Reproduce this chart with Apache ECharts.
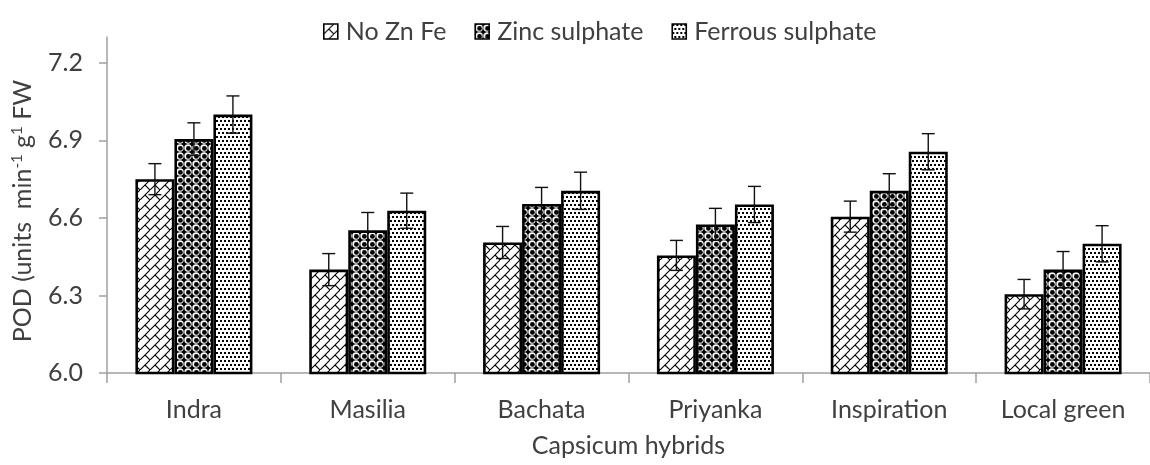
<!DOCTYPE html>
<html><head><meta charset="utf-8">
<script src="https://cdn.jsdelivr.net/npm/echarts@6/dist/echarts.min.js"></script>
<style>html,body{margin:0;padding:0;background:#fff}#c{width:1150px;height:465px}</style>
</head><body><div id="c"></div>
<script>
const categories = ['Indra', 'Masilia', 'Bachata', 'Priyanka', 'Inspiration', 'Local green'];
const seriesNames = ['No Zn Fe', 'Zinc sulphate', 'Ferrous sulphate'];
const noZnFe = [6.75, 6.40, 6.505, 6.455, 6.605, 6.305];
const zincSulphate = [6.905, 6.552, 6.654, 6.575, 6.705, 6.40];
const ferrousSulphate = [7.00, 6.628, 6.705, 6.652, 6.856, 6.50];
const errNoZnFe = [0.06, 0.062, 0.062, 0.058, 0.06, 0.057];
const errZinc = [0.063, 0.069, 0.064, 0.062, 0.066, 0.07];
const errFerrous = [0.072, 0.068, 0.072, 0.07, 0.07, 0.07];
const yTicks = [6.0, 6.3, 6.6, 6.9, 7.2];

const FONT = 'Lato';
const TXT = '#404040';
const BAR_W = 39;
const CAP = 6.5;

function makeTile(w, h, draw) {
  const c = document.createElement('canvas');
  c.width = w; c.height = h;
  const g = c.getContext('2d');
  draw(g, w, h);
  return c;
}
const brick = makeTile(10, 10, (g, w, h) => {
  g.fillStyle = '#fff'; g.fillRect(0, 0, w, h);
  g.strokeStyle = '#000'; g.lineWidth = 1.1;
  g.beginPath();
  g.moveTo(-2, h + 2); g.lineTo(w + 2, -2);
  g.moveTo(w / 2, h / 2); g.lineTo(w + 1, h + 1);
  g.moveTo(-1, -1); g.lineTo(0, 0);
  g.stroke();
});
const spheres = makeTile(8, 8, (g, w, h) => {
  g.fillStyle = '#000'; g.fillRect(0, 0, w, h);
  g.fillStyle = '#fff';
  g.beginPath(); g.arc(4, 4, 3.7, 0, Math.PI * 2); g.fill();
  g.fillStyle = '#000';
  g.beginPath(); g.arc(4.4, 4.4, 2.4, 0, Math.PI * 2); g.fill();
});
const dots = makeTile(8, 8, (g, w, h) => {
  g.fillStyle = '#fff'; g.fillRect(0, 0, w, h);
  g.fillStyle = '#000';
  g.fillRect(0, 0, 2, 2);
  g.fillRect(4, 0, 2, 2);
  g.fillRect(2, 4, 2, 2);
  g.fillRect(6, 4, 2, 2);
});
const patterns = [brick, spheres, dots];

function barSeries(idx, values) {
  return {
    type: 'bar', name: seriesNames[idx], data: values,
    barWidth: BAR_W, barGap: '0%',
    itemStyle: { color: { image: patterns[idx], repeat: 'repeat' }, borderColor: '#000', borderWidth: 2.6 },
    z: 2
  };
}
function errSeries(idx, values, errs) {
  return {
    type: 'custom', silent: true, z: 10,
    data: values.map((v, i) => [i, v, errs[i]]),
    encode: { x: 0, y: 1 },
    renderItem: (params, api) => {
      const c = api.value(0), v = api.value(1), e = api.value(2);
      const top = api.coord([c, v + e]);
      const bot = api.coord([c, v - e]);
      const x = top[0] + (idx - 1) * BAR_W;
      const st = { stroke: '#111', lineWidth: 1.4 };
      return {
        type: 'group', children: [
          { type: 'line', shape: { x1: x, y1: top[1], x2: x, y2: bot[1] }, style: st },
          { type: 'line', shape: { x1: x - CAP, y1: top[1], x2: x + CAP, y2: top[1] }, style: st },
          { type: 'line', shape: { x1: x - CAP, y1: bot[1], x2: x + CAP, y2: bot[1] }, style: st }
        ]
      };
    }
  };
}

const chart = echarts.init(document.getElementById('c'), null, { renderer: 'canvas' });
chart.setOption({
  animation: false,
  backgroundColor: '#fff',
  textStyle: { fontFamily: FONT, color: TXT },
  legend: {
    data: seriesNames, top: 19, left: 323, padding: 0, icon: 'rect',
    itemWidth: 14, itemHeight: 15, itemGap: 28,
    itemStyle: { borderColor: '#000', borderWidth: 1.6 },
    textStyle: { fontFamily: FONT, fontSize: 25, color: TXT, padding: [0, 0, 0, 3] }
  },
  grid: { left: 107, top: 37, width: 1053, height: 336 },
  xAxis: {
    type: 'category', data: categories,
    name: 'Capsicum hybrids', nameLocation: 'middle', nameGap: 60,
    nameTextStyle: { fontFamily: FONT, fontSize: 25, color: TXT },
    axisLine: { lineStyle: { color: '#a0a0a0', width: 1.5 } },
    axisTick: { show: true, length: 10, lineStyle: { color: '#a0a0a0', width: 1.5 } },
    axisLabel: { fontFamily: FONT, fontSize: 25, color: TXT, margin: 24 }
  },
  yAxis: {
    type: 'value', min: 6.0, max: 7.3, interval: 0.3,
    name: 'POD (units  min{sup|-1} g{sup|1} FW', nameLocation: 'middle', nameGap: 72,
    nameTextStyle: {
      fontFamily: FONT, fontSize: 25, color: TXT, padding: [0, 0, 0, -12],
      rich: { sup: { fontFamily: FONT, fontSize: 15, color: TXT, verticalAlign: 'top', lineHeight: 14 } }
    },
    splitLine: { show: false },
    axisLine: { show: true, lineStyle: { color: '#a0a0a0', width: 1.5 } },
    axisTick: { show: true, length: 8, customValues: yTicks, lineStyle: { color: '#a0a0a0', width: 1.5 } },
    axisLabel: { fontFamily: FONT, fontSize: 25, color: TXT, margin: 24, customValues: yTicks, formatter: v => v.toFixed(1) }
  },
  series: [
    barSeries(0, noZnFe), barSeries(1, zincSulphate), barSeries(2, ferrousSulphate),
    errSeries(0, noZnFe, errNoZnFe), errSeries(1, zincSulphate, errZinc), errSeries(2, ferrousSulphate, errFerrous)
  ]
});
</script></body></html>
